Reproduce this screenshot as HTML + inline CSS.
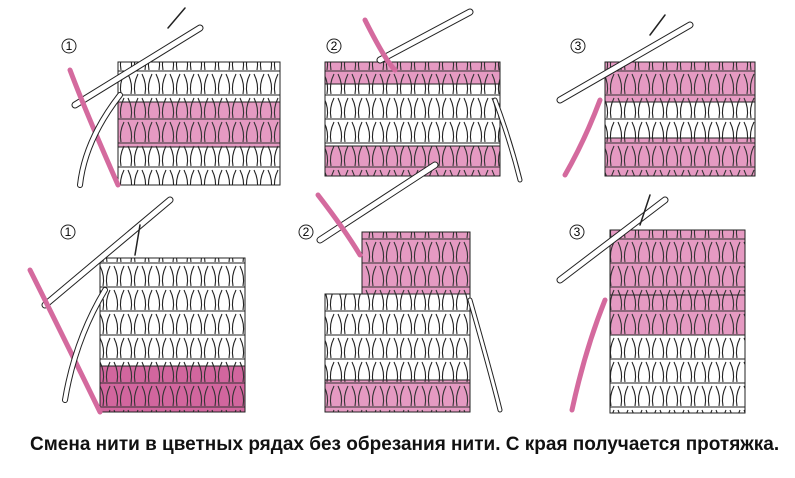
<!DOCTYPE html>
<html><head><meta charset="utf-8"><style>
html,body{margin:0;padding:0;background:#fff;width:795px;height:478px;overflow:hidden}
svg{position:absolute;left:0;top:0}
.cap{position:absolute;left:30px;top:434px;white-space:nowrap;font-family:"Liberation Sans",sans-serif;font-weight:bold;font-size:19px;color:#111;transform-origin:0 0;}
</style></head><body>
<svg width="795" height="478" xmlns="http://www.w3.org/2000/svg">
<defs>
<pattern id="w" width="14" height="24" patternUnits="userSpaceOnUse">
<rect width="14" height="24" fill="#fff"/>
<path d="M2 2 Q7 12 5 22 M12 2 Q7 12 9 22 M0 23 H14" stroke="#222" stroke-width="1.1" fill="none"/>
</pattern>
<pattern id="p" width="14" height="24" patternUnits="userSpaceOnUse">
<rect width="14" height="24" fill="#e59ac2"/>
<path d="M2 2 Q7 12 5 22 M12 2 Q7 12 9 22 M0 23 H14" stroke="#333" stroke-width="1.1" fill="none"/>
</pattern>
<pattern id="dp" width="14" height="24" patternUnits="userSpaceOnUse">
<rect width="14" height="24" fill="#d2669e"/>
<path d="M2 2 Q7 12 5 22 M12 2 Q7 12 9 22 M0 23 H14" stroke="#333" stroke-width="1.1" fill="none"/>
</pattern>
</defs>
<g stroke="#222" stroke-width="1">
<rect x="118" y="62" width="162" height="40" fill="url(#w)"/>
<rect x="118" y="102" width="162" height="45" fill="url(#p)"/>
<rect x="118" y="147" width="162" height="38" fill="url(#w)"/>
<rect x="325" y="62" width="175" height="22" fill="url(#p)"/>
<rect x="325" y="84" width="175" height="62" fill="url(#w)"/>
<rect x="325" y="146" width="175" height="30" fill="url(#p)"/>
<rect x="605" y="62" width="150" height="40" fill="url(#p)"/>
<rect x="605" y="102" width="150" height="36" fill="url(#w)"/>
<rect x="605" y="138" width="150" height="38" fill="url(#p)"/>
<rect x="100" y="258" width="145" height="108" fill="url(#w)"/>
<rect x="100" y="366" width="145" height="46" fill="url(#dp)"/>
<rect x="362" y="232" width="108" height="62" fill="url(#p)"/>
<rect x="325" y="294" width="145" height="86" fill="url(#w)"/>
<rect x="325" y="380" width="145" height="32" fill="url(#p)"/>
<rect x="610" y="230" width="135" height="65" fill="url(#p)"/>
<rect x="610" y="295" width="135" height="40" fill="url(#p)"/>
<rect x="610" y="335" width="135" height="78" fill="url(#w)"/>
</g>
<g fill="none" stroke-linecap="round">
<path d="M75 105 L200 28" stroke="#222" stroke-width="7"/><path d="M75 105 L200 28" stroke="#fff" stroke-width="5"/>
<path d="M380 60 L470 12" stroke="#222" stroke-width="7"/><path d="M380 60 L470 12" stroke="#fff" stroke-width="5"/>
<path d="M560 100 L690 25" stroke="#222" stroke-width="7"/><path d="M560 100 L690 25" stroke="#fff" stroke-width="5"/>
<path d="M45 305 L170 200" stroke="#222" stroke-width="7"/><path d="M45 305 L170 200" stroke="#fff" stroke-width="5"/>
<path d="M320 240 L435 165" stroke="#222" stroke-width="7"/><path d="M320 240 L435 165" stroke="#fff" stroke-width="5"/>
<path d="M560 280 L665 200" stroke="#222" stroke-width="7"/><path d="M560 280 L665 200" stroke="#fff" stroke-width="5"/>
<path d="M70 70 Q85 110 118 185" stroke="#d46a9e" stroke-width="5"/>
<path d="M120 95 Q85 140 80 185" stroke="#222" stroke-width="6"/><path d="M120 95 Q85 140 80 185" stroke="#fff" stroke-width="4"/>
<path d="M365 20 Q385 60 395 70" stroke="#d46a9e" stroke-width="5"/>
<path d="M495 100 Q510 140 520 180" stroke="#222" stroke-width="5"/><path d="M495 100 Q510 140 520 180" stroke="#fff" stroke-width="3"/>
<path d="M600 100 Q585 140 565 175" stroke="#d46a9e" stroke-width="5"/>
<path d="M30 270 Q60 330 100 412" stroke="#d46a9e" stroke-width="5"/>
<path d="M105 290 Q75 340 65 400" stroke="#222" stroke-width="6"/><path d="M105 290 Q75 340 65 400" stroke="#fff" stroke-width="4"/>
<path d="M318 195 Q345 230 360 255" stroke="#d46a9e" stroke-width="5"/>
<path d="M470 300 Q490 370 500 410" stroke="#222" stroke-width="5"/><path d="M470 300 Q490 370 500 410" stroke="#fff" stroke-width="3"/>
<path d="M605 300 Q585 350 572 410" stroke="#d46a9e" stroke-width="5"/>
<path d="M168 28 L185 8" stroke="#222" stroke-width="1.5"/>
<path d="M650 35 L665 15" stroke="#222" stroke-width="1.5"/>
<path d="M135 255 L140 225" stroke="#222" stroke-width="1.5"/>
<path d="M640 225 L650 195" stroke="#222" stroke-width="1.5"/>
</g>
<g font-family="Liberation Sans,sans-serif" font-size="12" text-anchor="middle">
<circle cx="69" cy="46" r="7" fill="none" stroke="#222"/><text x="69" y="50">1</text>
<circle cx="334" cy="46" r="7" fill="none" stroke="#222"/><text x="334" y="50">2</text>
<circle cx="578" cy="46" r="7" fill="none" stroke="#222"/><text x="578" y="50">3</text>
<circle cx="68" cy="232" r="7" fill="none" stroke="#222"/><text x="68" y="236">1</text>
<circle cx="306" cy="232" r="7" fill="none" stroke="#222"/><text x="306" y="236">2</text>
<circle cx="577" cy="232" r="7" fill="none" stroke="#222"/><text x="577" y="236">3</text>
</g>
</svg>
<div class="cap">Смена нити в цветных рядах без обрезания нити. С края получается протяжка.</div>
</body></html>
